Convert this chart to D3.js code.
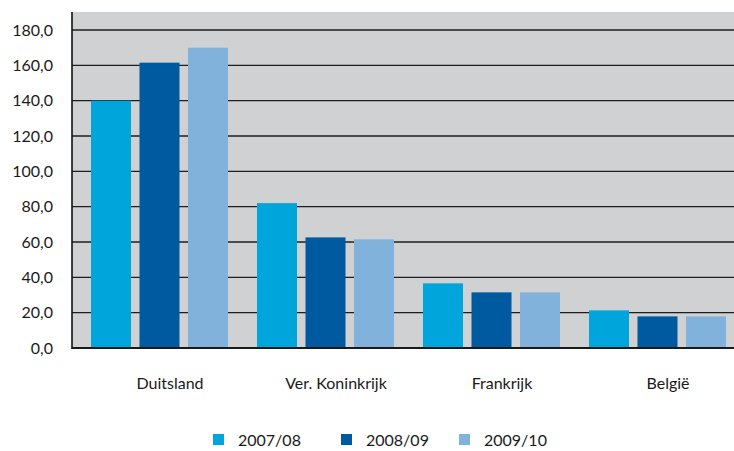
<!DOCTYPE html>
<html>
<head>
<meta charset="utf-8">
<script src="https://cdn.jsdelivr.net/npm/d3@7"></script>
<style>
  body { margin: 0; background: #fff; }
  svg text { font-family: Lato, sans-serif; fill: #1a1a1a; }
</style>
</head>
<body>
<div id="chart"></div>
<script>
// chart data
const countries = ['Duitsland', 'Ver. Koninkrijk', 'Frankrijk', 'België'];
const seasons = ['2007/08', '2008/09', '2009/10'];
const values2007 = [140.0, 82.0, 36.6, 21.3];
const values2008 = [161.5, 62.6, 31.5, 17.9];
const values2009 = [170.0, 61.5, 31.5, 17.9];
const yTicks = [0, 20, 40, 60, 80, 100, 120, 140, 160, 180];
const colors = ['#00a6db', '#005a9f', '#80b2db'];

const width = 734,
  height = 451,
  margin = {top: 12, right: 0, bottom: 103, left: 72};

const series = [values2007, values2008, values2009];

const svg = d3.select('#chart').append('svg')
  .attr('width', width)
  .attr('height', height);

const yScale = d3.scaleLinear()
  .domain([0, 180])
  .range([348, 30]);

// group band, a bit wider than the visible area
const x0 = d3.scaleBand()
  .domain(countries)
  .range([margin.left, margin.left + 4 * 166]);

const x1 = d3.scaleBand()
  .domain(seasons)
  .range([19, 156])
  .paddingInner(0.175);

// plot background
svg.append('rect')
  .attr('x', margin.left)
  .attr('y', margin.top)
  .attr('width', width - margin.left)
  .attr('height', yScale(0) - margin.top)
  .attr('fill', '#d0d1d3');

// gridlines
svg.append('g')
  .selectAll('line')
  .data(yTicks.filter(d => d > 0))
  .enter().append('line')
  .attr('x1', margin.left)
  .attr('x2', width)
  .attr('y1', d => yScale(d))
  .attr('y2', d => yScale(d))
  .attr('stroke', '#1e1e1e')
  .attr('stroke-width', 1.4);

// bars
const groups = svg.append('g')
  .selectAll('g')
  .data(countries)
  .enter().append('g')
  .attr('transform', d => 'translate(' + x0(d) + ',0)');

groups.selectAll('rect')
  .data((c, i) => seasons.map((s, j) => ({season: s, value: series[j][i], j: j})))
  .enter().append('rect')
  .attr('x', d => x1(d.season))
  .attr('width', x1.bandwidth())
  .attr('y', d => yScale(d.value))
  .attr('height', d => yScale(0) - yScale(d.value))
  .attr('fill', d => colors[d.j]);

// y axis
const yAxis = d3.axisLeft(yScale)
  .tickValues(yTicks)
  .tickSize(0)
  .tickPadding(19)
  .tickFormat(d => d3.format('.1f')(d).replace('.', ','));

const yG = svg.append('g')
  .attr('transform', 'translate(' + margin.left + ',0)')
  .call(yAxis);
yG.select('.domain').remove();
yG.selectAll('text')
  .style('font-family', 'Lato, sans-serif')
  .style('font-size', '16px')
  .attr('fill', '#1a1a1a');

svg.append('line')
  .attr('x1', margin.left)
  .attr('x2', margin.left)
  .attr('y1', margin.top)
  .attr('y2', yScale(0) + 1)
  .attr('stroke', '#111')
  .attr('stroke-width', 1.6);

svg.append('line')
  .attr('x1', margin.left)
  .attr('x2', width)
  .attr('y1', yScale(0))
  .attr('y2', yScale(0))
  .attr('stroke', '#1a1a1a')
  .attr('stroke-width', 2);

// category labels
svg.append('g')
  .selectAll('text')
  .data(countries)
  .enter().append('text')
  .attr('x', d => x0(d) + 98)
  .attr('y', 389)
  .attr('text-anchor', 'middle')
  .style('font-size', '16px')
  .text(d => d);

// legend
const legendX = [213, 341, 459];
const legend = svg.append('g')
  .selectAll('g')
  .data(seasons)
  .enter().append('g')
  .attr('transform', (d, i) => 'translate(' + legendX[i] + ',434)');

legend.append('rect')
  .attr('width', 11)
  .attr('height', 11)
  .attr('fill', (d, i) => colors[i]);

legend.append('text')
  .attr('x', 25)
  .attr('y', 12)
  .style('font-size', '16px')
  .text(d => d);
</script>
</body>
</html>
